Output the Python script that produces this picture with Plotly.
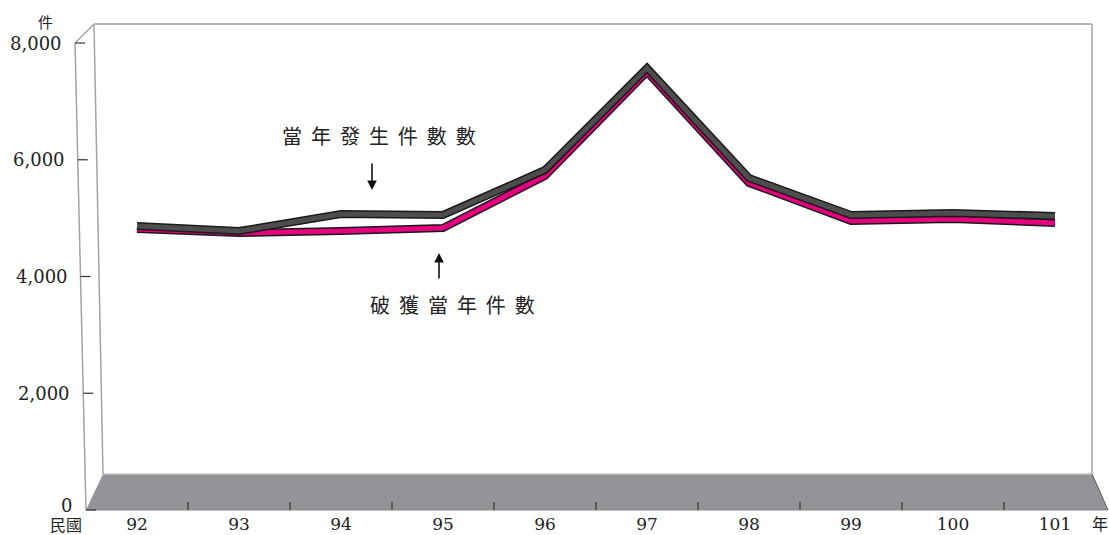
import plotly.graph_objects as go

# 民國年
years = ["92", "93", "94", "95", "96", "97", "98", "99", "100", "101"]
# 當年發生件數
occurred = [4865, 4779, 5071, 5054, 5824, 7572, 5687, 5054, 5088, 5036]
# 破獲當年件數
solved = [4814, 4745, 4779, 4831, 5722, 7503, 5602, 4951, 4985, 4916]
y_ticks = [0, 2000, 4000, 6000, 8000]
y_tick_text = ["0", "2,000", "4,000", "6,000", "8,000"]

W, H = 1109, 535
L, R, T, B = 86, 1106, 43, 510  # front plane of the pseudo-3D box (px)

SERIF = "DejaVu Serif, Liberation Serif, serif"
CJK = "Noto Sans CJK TC, Noto Sans CJK SC, sans-serif"
WALL = "#a3a3a3"
INK = "#222222"


def px(x, y):
    """pixel -> paper coords"""
    return (x - L) / (R - L), (B - y) / (B - T)


def seg(x0, y0, x1, y1, color=WALL, width=1.5):
    a, b = px(x0, y0)
    c, d = px(x1, y1)
    return dict(type="line", xref="paper", yref="paper", x0=a, y0=b, x1=c, y1=d,
                line=dict(color=color, width=width), layer="below")


def poly(pts, fill):
    p = [px(*q) for q in pts]
    path = "M " + " L ".join(f"{a},{b}" for a, b in p) + " Z"
    return dict(type="path", xref="paper", yref="paper", path=path,
                fillcolor=fill, line=dict(width=0), layer="below")


xi = list(range(len(years)))

fig = go.Figure()
# ribbon effect: dark outline below, coloured core on top
for vals, core in [(solved, "#e5007e"), (occurred, "#4d4d4d")]:
    fig.add_trace(go.Scatter(x=xi, y=vals, mode="lines",
                             line=dict(color="#1a1a1a", width=8), hoverinfo="skip",
                             showlegend=False))
    fig.add_trace(go.Scatter(x=xi, y=vals, mode="lines",
                             line=dict(color=core, width=5), showlegend=False))

shapes = []
# floor
shapes.append(poly([(86, 510), (1108, 510), (1092, 474), (103, 474)], "#939498"))
shapes.append(seg(103, 474, 1092, 474, "#c4c4c4", 1.5))
shapes.append(seg(86, 510, 1108, 510, "#8a8a8a", 1))
shapes.append(seg(1092, 474, 1108, 510, "#555555", 1))
# back wall + left side wall
shapes.append(seg(103, 474, 94, 24))
shapes.append(seg(94, 24, 1092, 24))
shapes.append(seg(1092, 24, 1092, 474))
shapes.append(seg(94, 24, 75, 43))
shapes.append(seg(75, 43, 86, 510))

# y ticks on slanted front axis
annotations = []
for v, t in zip(y_ticks, y_tick_text):
    py_ = B - v / 8000 * (B - T)
    ax_x = 75 + (py_ - 43) / (510 - 43) * 11
    shapes.append(seg(ax_x, py_, ax_x + 10, py_, "#333333", 1.2))
    xa, ya = px(ax_x - 11 if v else ax_x - 12, py_ if v else py_ - 5)
    annotations.append(dict(xref="paper", yref="paper", x=xa, y=ya, text=t,
                            showarrow=False, xanchor="right", yanchor="middle",
                            font=dict(family=SERIF, size=18, color=INK)))

# x ticks on floor front edge (category boundaries)
for k in range(len(years) - 1):
    shapes.append(dict(type="line", xref="x", yref="paper", x0=k + 0.5, x1=k + 0.5,
                       y0=px(0, 510)[1], y1=px(0, 502)[1],
                       line=dict(color="#333333", width=1.2)))


def txt(x, y, s, size=20, family=CJK):
    a, b = px(x, y)
    annotations.append(dict(xref="paper", yref="paper", x=a, y=b, text=s,
                            xanchor="center", yanchor="middle", showarrow=False,
                            font=dict(family=family, size=size, color=INK)))


gap = "\u00a0 "
txt(45, 21, "件", 15)
txt(66, 524, "民國", 16)
txt(1100, 523, "年", 16)
txt(379, 136, gap.join("當年發生件數數"), 20)
txt(452, 304, gap.join("破獲當年件數"), 20)

# arrows (tail offset given in pixels)
for (hx, hy, tx_, ty_) in [(372, 190, 372, 162), (439, 253, 439, 280)]:
    a, b = px(hx, hy)
    annotations.append(dict(xref="paper", yref="paper", x=a, y=b,
                            ax=tx_ - hx, ay=ty_ - hy, axref="pixel", ayref="pixel",
                            text="", showarrow=True, arrowhead=2, arrowsize=1.2,
                            arrowwidth=1.6, arrowcolor="#111111"))

fig.update_layout(
    width=W, height=H,
    margin=dict(l=L, r=W - R, t=T, b=H - B, pad=0, autoexpand=False),
    plot_bgcolor="white", paper_bgcolor="white",
    shapes=shapes, annotations=annotations,
    xaxis=dict(range=[-0.5, 9.5], tickvals=xi, ticktext=years, showgrid=False,
               zeroline=False, showline=False, ticks="", ticklabelstandoff=2,
               automargin=False,
               tickfont=dict(family=SERIF, size=17, color=INK)),
    yaxis=dict(range=[0, 8000], showgrid=False, zeroline=False, showline=False,
               showticklabels=False, automargin=False),
)

# drop the default 8px body margin so the figure fills the window exactly
fig.write_html("out.html", config={"displayModeBar": False},
               post_script="document.body.style.margin='0';document.body.style.overflow='hidden';")
